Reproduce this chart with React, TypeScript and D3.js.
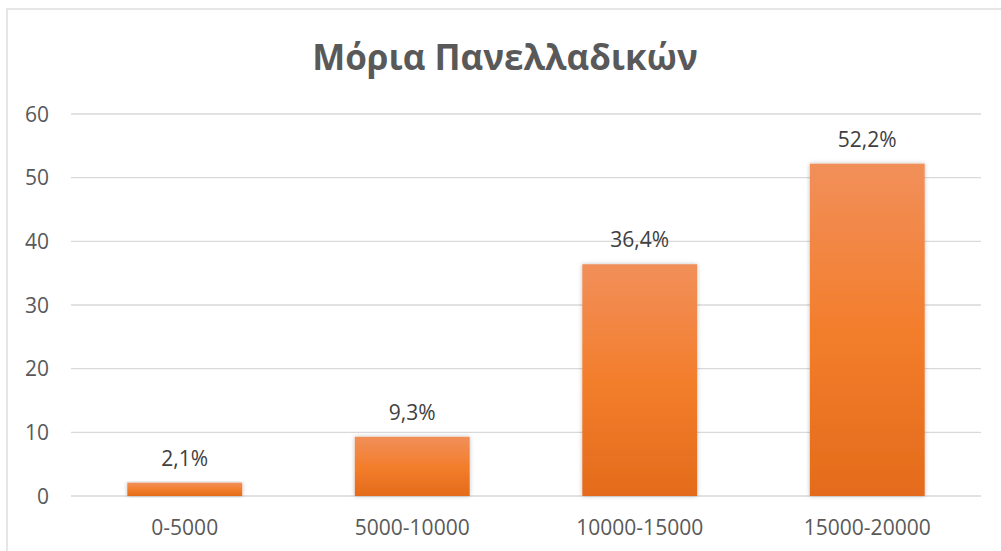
import React from "react";
import * as d3 from "d3";

const categories = ["0-5000", "5000-10000", "10000-15000", "15000-20000"];
const values = [2.1, 9.3, 36.4, 52.2];
const yTicks = [0, 10, 20, 30, 40, 50, 60];
const title = "Μόρια Πανελλαδικών";

const W = 1001;
const H = 551;
const plot = { left: 71, right: 981, top: 114, bottom: 496 };
const FONT = "'Open Sans', 'DejaVu Sans', sans-serif";

export default function App() {
  const x = d3
    .scaleBand<string>()
    .domain(categories)
    .range([plot.left, plot.right])
    .paddingInner(0.495)
    .paddingOuter(0.2475);
  const y = d3.scaleLinear().domain([0, 60]).range([plot.bottom, plot.top]);
  const fmt = (v: number) => v.toFixed(1).replace(".", ",") + "%";

  return (
    <svg
      width={W}
      height={H}
      style={{ position: "absolute", left: 0, top: 0, display: "block" }}
    >
      <defs>
        <linearGradient id="barGrad" x1="0" y1="0" x2="0" y2="1">
          <stop offset="0" stopColor="#F18F5A" />
          <stop offset="0.5" stopColor="#F37E2C" />
          <stop offset="1" stopColor="#E36B1B" />
        </linearGradient>
        <filter id="shadow" x="-10%" y="-10%" width="120%" height="120%">
          <feDropShadow dx="0" dy="0" stdDeviation="2" floodColor="#000" floodOpacity="0.25" />
        </filter>
      </defs>
      <rect x={0} y={0} width={W} height={H} fill="#fff" />
      <rect x={7} y={9} width={W + 5} height={H + 5} fill="#fff" stroke="#D9D9D9" strokeWidth={1.3} />
      <text
        x={505}
        y={70}
        textAnchor="middle"
        fontFamily={FONT}
        fontWeight="bold"
        fontSize={35}
        fill="#595959"
      >
        {title}
      </text>
      {yTicks.map((t) => (
        <g key={t}>
          <line
            x1={plot.left}
            x2={plot.right}
            y1={y(t)}
            y2={y(t)}
            stroke="#D9D9D9"
            strokeWidth={1.3}
          />
          <text
            x={49}
            y={y(t) + 7.5}
            textAnchor="end"
            fontFamily={FONT}
            fontSize={21}
            fill="#595959"
          >
            {t}
          </text>
        </g>
      ))}
      {categories.map((c, i) => {
        const bx = x(c)!;
        const bw = x.bandwidth();
        const top = y(values[i]);
        return (
          <g key={c}>
            <rect
              x={bx}
              y={top}
              width={bw}
              height={y(0) - top}
              fill="url(#barGrad)"
              filter="url(#shadow)"
            />
            <text
              x={bx + bw / 2}
              y={top - 17}
              textAnchor="middle"
              fontFamily={FONT}
              fontSize={21}
              fill="#404040"
            >
              {fmt(values[i])}
            </text>
            <text
              x={bx + bw / 2}
              y={535}
              textAnchor="middle"
              fontFamily={FONT}
              fontSize={21}
              fill="#595959"
            >
              {c}
            </text>
          </g>
        );
      })}
    </svg>
  );
}
